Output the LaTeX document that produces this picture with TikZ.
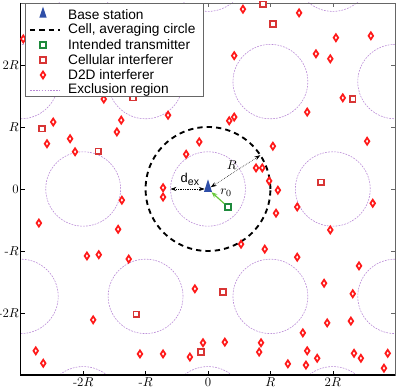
\documentclass[tikz,border=0pt]{standalone}
\usepackage{fontspec}
\usetikzlibrary{shapes.geometric, arrows.meta}
\newfontfamily\legfont{Liberation Sans}
\definecolor{bsblue}{HTML}{2F4FA8}
\definecolor{txgreen}{HTML}{1E8A3C}
\definecolor{cellred}{HTML}{D83535}
\definecolor{d2dred}{HTML}{FF1A1A}
\definecolor{expurple}{HTML}{B98AD6}
\definecolor{framegray}{HTML}{666666}
\definecolor{arrgreen}{HTML}{66C83A}

\begin{document}
\begin{tikzpicture}[x=1.872cm, y=1.86cm,
    bstat/.style={isosceles triangle, isosceles triangle apex angle=40, isosceles triangle stretches, shape border rotate=90, fill=bsblue, inner sep=0pt, minimum width=0.24cm, minimum height=0.38cm},
    tx/.style={draw=txgreen, line width=1.4pt, fill=white, inner sep=0pt, minimum size=0.17cm},
    cint/.style={draw=cellred, line width=1.4pt, fill=white, inner sep=0pt, minimum size=0.17cm},
    dint/.style={diamond, draw=d2dred, line width=1.5pt, fill=white, inner sep=0pt, minimum width=0.16cm, minimum height=0.23cm},
    excl/.style={expurple, line width=0.5pt, dash pattern=on 1.5pt off 1pt},
    cellc/.style={black, line width=1.6pt, dash pattern=on 4.5pt off 3.5pt},
    dimarr/.style={{Stealth[length=5pt,width=3.5pt]}-{Stealth[length=5pt,width=3.5pt]}, line width=0.5pt, densely dotted},
    lbl/.style={font=\fontsize{11}{13}\selectfont, inner sep=1pt},
    legtxt/.style={font=\legfont\fontsize{11.7}{14}\selectfont, anchor=west, inner sep=0pt}]

\useasboundingbox (-3.333,-3.242) rectangle (3.125,3.048);

% exclusion regions on the hexagonal grid
\begin{scope}
  \clip (-3,-3) rectangle (3,3);
  \foreach \r in {-2,0,2}
    \foreach \c in {-4,-2,0,2,4}
      \draw[excl] (\c,{\r*sqrt(3)}) circle (0.6);
  \foreach \r in {-1,1}
    \foreach \c in {-3,-1,1,3}
      \draw[excl] (\c,{\r*sqrt(3)}) circle (0.6);
\end{scope}

% frame, ticks and tick labels
\draw[framegray, line width=0.6pt] (-3,-3) rectangle (3,3);
\draw[line width=1pt] (-3,3) -- (-3,-3) -- (3,-3);
\foreach \t in {-2,...,2} {
  \draw[line width=0.5pt] (\t,-3) -- ++(0,0.06);
  \draw[framegray, line width=0.5pt] (\t,3) -- ++(0,-0.06);
  \draw[line width=0.5pt] (-3,\t) -- ++(0.06,0);
  \draw[framegray, line width=0.5pt] (3,\t) -- ++(-0.06,0);
}
\foreach \t/\txt [count=\i] in {-2/{-2$R$}, -1/{-$R$}, 0/{0}, 1/{$R$}, 2/{2$R$}} {
  \node[lbl, anchor=east] (yl\i) at (-3.01,\t) {\txt};
  \node[lbl] (xl\i) at (\t,-3.12) {\txt};
}

% cell averaging circle
\draw[cellc] (0,0) circle (1);

% D2D interferers
\foreach \x/\y [count=\i] in {-2.96/2.42, -1.67/1.45, -2.48/1.08, -1.39/1.11, -0.64/1.19,
    0.56/2.90, 1.46/2.84, 2.05/2.44, 2.61/2.47, 0.42/2.15, 1.73/2.18, 1.96/2.10,
    2.16/1.47, 1.59/1.24, 0.42/1.16, 0.34/1.10, -2.58/0.73, -2.21/0.81, -1.46/0.92,
    -2.13/0.60, -1.38/-0.18, -2.71/-0.55, -1.44/-0.65, -0.72/0.02, -0.72/-0.13,
    -1.94/-1.08, -1.75/-1.06, -1.27/-1.13, -0.14/0.76, -0.35/0.56, 1.04/0.69,
    2.55/0.77, 0.77/0.34, 0.87/0.34, 0.98/0.13, 1.12/-0.02, 1.43/-0.29, 2.64/-0.23,
    1.09/-0.39, 1.96/-0.66, 0.53/-0.89, 0.91/-0.97, 1.43/-1.10, -0.21/-1.61,
    -1.84/-2.11, -2.76/-2.61, -2.64/-2.81, -1.09/-2.66, -0.72/-2.66, -0.29/-2.71,
    2.42/-1.24, 1.86/-1.52, 2.32/-1.69, 1.91/-2.16, 2.29/-2.13, 1.52/-2.32,
    -0.08/-2.48, 0.27/-2.47, 0.85/-2.48, 0.82/-2.63, 1.59/-2.61, 1.75/-2.73,
    2.34/-2.65, 2.45/-2.73, 2.88/-2.65, 1.28/-2.82, 1.57/-2.84, 2.82/-2.89}
  \node[dint] (d\i) at (\x,\y) {};

% cellular interferers
\foreach \x/\y [count=\i] in {-1.20/1.47, -2.66/0.97, -1.76/0.61, 0.88/2.98, 1.04/2.66,
    2.32/1.45, 1.81/0.11, -1.15/-2.02, 0.24/-1.66, -0.11/-2.63}
  \node[cint] (c\i) at (\x,\y) {};

% base station, intended transmitter
\node[bstat] (bs) at (0,0) {};
\node[tx] (tx) at (0.32,-0.29) {};
\coordinate (exl) at (-0.6,0);
\coordinate (rend) at (33:1);

\draw[dimarr] (exl) -- (bs);
\draw[dimarr] (bs) -- (rend);
\draw[-{Stealth[length=5pt,width=4pt]}, arrgreen, line width=1pt] (tx) -- (bs);
\node[font=\legfont\fontsize{11}{13}\selectfont, inner sep=0pt] (dex) at (-0.29,0.15) {d\raisebox{-0.45ex}{\fontsize{9}{10}\selectfont ex}};
\node[lbl] (rlab) at (0.38,0.39) {$R$};
\node[lbl] (r0lab) at (0.29,-0.06) {$r_0$};

% legend
\draw[framegray, line width=0.6pt, fill=white] (-2.92,3) rectangle (-0.08,1.5);
\node[bstat, minimum width=0.22cm, minimum height=0.33cm] (lg1) at (-2.644,2.806) {};
\coordinate (lg2a) at (-2.853,2.565);
\coordinate (lg2b) at (-2.372,2.565);
\draw[cellc] (lg2a) -- (lg2b);
\node[tx] (lg3) at (-2.644,2.323) {};
\node[cint] (lg4) at (-2.644,2.081) {};
\node[dint] (lg5) at (-2.644,1.839) {};
\coordinate (lg6a) at (-2.853,1.597);
\coordinate (lg6b) at (-2.372,1.597);
\draw[excl] (lg6a) -- (lg6b);
\node[legtxt] (t1) at (-2.244,2.806) {Base station};
\node[legtxt] (t2) at (-2.244,2.565) {Cell, averaging circle};
\node[legtxt] (t3) at (-2.244,2.323) {Intended transmitter};
\node[legtxt] (t4) at (-2.244,2.081) {Cellular interferer};
\node[legtxt] (t5) at (-2.244,1.839) {D2D interferer};
\node[legtxt] (t6) at (-2.244,1.597) {Exclusion region};
\end{tikzpicture}
\end{document}
